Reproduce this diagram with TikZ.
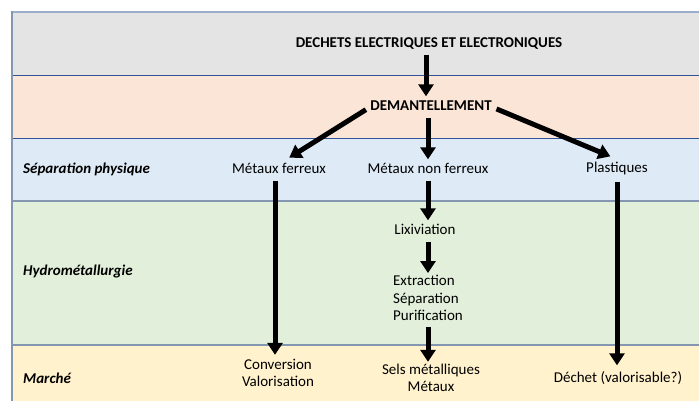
\documentclass[tikz,border=0pt]{standalone}
\usepackage{fontspec}
\setmainfont{Carlito}
\usetikzlibrary{arrows.meta}
\definecolor{bandgray}{HTML}{E4E4E4}
\definecolor{bandpink}{HTML}{FBE5D6}
\definecolor{bandblue}{HTML}{DEEBF7}
\definecolor{bandgreen}{HTML}{E2EFDA}
\definecolor{bandyellow}{HTML}{FFF2CC}
\definecolor{darkrule}{HTML}{2F5597}
\definecolor{greyrule}{HTML}{8497B0}
\definecolor{toprule}{HTML}{9AADCB}

\begin{document}
\begin{tikzpicture}[x=1bp,y=-1bp,line cap=butt,
  txt/.style={inner sep=0pt,text height=9bp,text depth=2bp,font=\fontsize{15bp}{17bp}\selectfont},
  multi/.style={inner sep=0pt,font=\fontsize{15bp}{17.5bp}\selectfont},
  head/.style={txt,font=\fontsize{15bp}{17bp}\selectfont\bfseries},
  band/.style={txt,anchor=west,font=\fontsize{15bp}{17bp}\selectfont\bfseries\itshape},
  flow/.style={-{Triangle[length=12bp,width=15bp]},line width=5bp,black,
    shorten <=5bp,shorten >=5bp}]
  \useasboundingbox (0,0) rectangle (699,401);
  \fill[white] (0,0) rectangle (699,401);

  % ---- bands ----
  \fill[bandgray] (12,12) rectangle (699,75);
  \fill[bandpink] (12,75) rectangle (699,138);
  \fill[bandblue] (12,138) rectangle (699,201);
  \fill[bandgreen] (12,201) rectangle (699,345);
  \fill[bandyellow] (12,345) rectangle (699,401);
  \draw[toprule,line width=2bp] (12,12) -- (699,12);
  \draw[darkrule,line width=1bp] (12,75) -- (699,75);
  \draw[darkrule,line width=1bp] (12,138) -- (699,138);
  \draw[greyrule,line width=2bp] (12,201) -- (699,201);
  \draw[greyrule,line width=2bp] (12,345) -- (699,345);
  \draw[greyrule,line width=2bp] (12,11) -- (12,401);

  % band titles
  \node[band] (sep) at (23,170) {Séparation physique};
  \node[band] (hydro) at (23,272) {Hydrométallurgie};
  \node[band] (marche) at (23,380) {Marché};

  % ---- steps ----
  \node[head] (dechets) at (429,44) {DECHETS ELECTRIQUES ET ELECTRONIQUES};
  \node[head] (demant) at (431,107) {DEMANTELLEMENT};
  \node[txt] (ferreux) at (279,170) {Métaux ferreux};
  \node[txt] (nonferreux) at (428,170) {Métaux non ferreux};
  \node[txt] (plastiques) at (617,169) {Plastiques};
  \node[txt] (lixiv) at (425,231) {Lixiviation};
  \node[multi,align=left] (extract) at (428,298) {Extraction\\Séparation\\Purification};
  \node[multi,align=center] (sels) at (431,378) {Sels métalliques\\Métaux};
  \node[multi,align=center] (conv) at (278,373) {Conversion\\Valorisation};
  \node[txt] (dechet) at (618,379) {Déchet (valorisable?)};

  % ---- arrows ----
  \draw[flow] (dechets.south -| 426,0) -- (426,0 |- demant.north);
  \draw[flow] (demant.west) -- ([xshift=6bp,yshift=4bp]ferreux.north);
  \draw[flow] (demant.south -| nonferreux) -- (nonferreux.north);
  \draw[flow] (demant.east) -- ([xshift=-2bp,yshift=5bp]plastiques.north);
  \draw[flow] (nonferreux.south) -- (nonferreux.south |- lixiv.north);
  \draw[flow,shorten >=2bp] (nonferreux.south |- lixiv.south) -- (nonferreux.south |- extract.north);
  \draw[flow,shorten <=6bp,shorten >=2bp] (nonferreux.south |- extract.south) -- (nonferreux.south |- sels.north);
  \draw[flow,shorten >=4bp] ([xshift=-4bp]ferreux.south) -- ([xshift=-4bp]ferreux.south |- conv.north);
  \draw[flow,shorten <=7bp,shorten >=8bp] (plastiques.south) -- (plastiques.south |- dechet.north);
\end{tikzpicture}
\end{document}
